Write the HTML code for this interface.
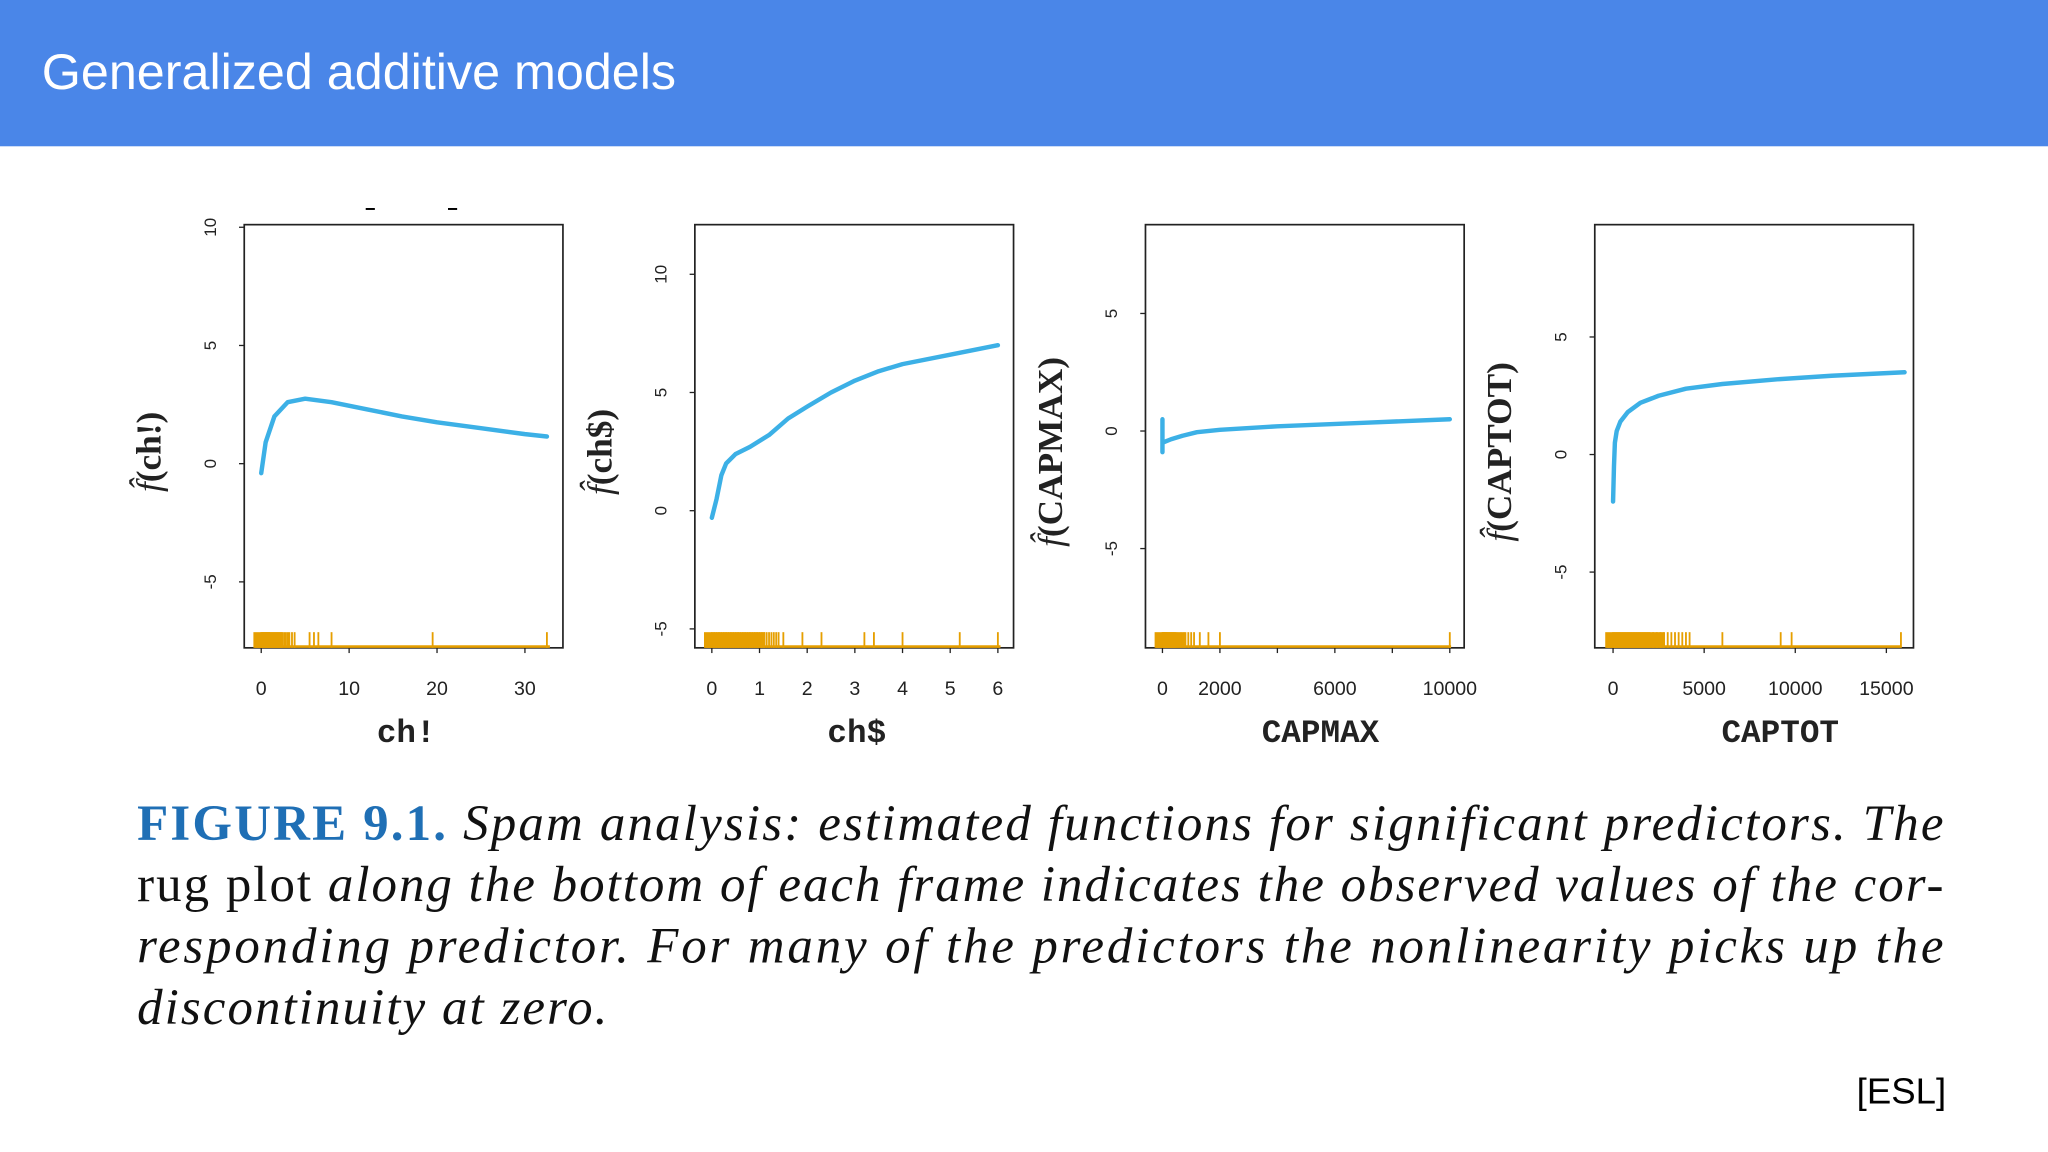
<!DOCTYPE html>
<html><head><meta charset="utf-8">
<style>
html,body{margin:0;padding:0;background:#fff;}
svg{display:block;}
</style></head>
<body>
<svg id="root" width="2048" height="1152" viewBox="0 0 1568 882" xmlns="http://www.w3.org/2000/svg">
  <rect x="0" y="0" width="1568" height="112" fill="#4a86e8"/>
  <text x="32" y="68" font-family="Liberation Sans, sans-serif" font-size="38.5" fill="#ffffff">Generalized additive models</text>
  <line x1="280" y1="160" x2="287" y2="160" stroke="#000" stroke-width="1.5"/>
  <line x1="343" y1="160" x2="350" y2="160" stroke="#000" stroke-width="1.5"/>
  <g id="charts"></g>
  <g font-family="Liberation Serif, serif" font-size="39" fill="#111">
    <text x="105" y="643" textLength="1383" lengthAdjust="spacing"><tspan fill="#1f6fb5" font-weight="bold">FIGURE 9.1.</tspan><tspan font-style="italic"> Spam analysis: estimated functions for significant predictors. The</tspan></text>
    <text x="105" y="690" textLength="1383" lengthAdjust="spacing">rug plot <tspan font-style="italic">along the bottom of each frame indicates the observed values of the cor-</tspan></text>
    <text x="105" y="737" textLength="1383" lengthAdjust="spacing" font-style="italic">responding predictor. For many of the predictors the nonlinearity picks up the</text>
    <text x="105" y="784" font-style="italic" textLength="360" lengthAdjust="spacing">discontinuity at zero.</text>
  </g>
  <text x="1490" y="845" text-anchor="end" font-family="Liberation Sans, sans-serif" font-size="28" fill="#000">[ESL]</text>
</svg>
<script>
// Panel 1: ch!
const p1CurveX = [0,0.5,1.5,3,5,8,12,16,20,25,30,32.5];
const p1CurveY = [-0.4,0.9,2.0,2.6,2.75,2.6,2.3,2.0,1.75,1.5,1.25,1.15];
const p1Rug = [0,0.1,0.2,0.3,0.4,0.5,0.6,0.7,0.8,0.9,1,1.2,1.4,1.6,1.8,2,2.2,2.4,2.6,2.8,3,3.2,3.5,3.8,5.5,6,6.5,8,19.5,32.5];
const p1XTicks = [0,10,20,30];
const p1YTicks = [-5,0,5,10];
// Panel 2: ch$
const p2CurveX = [0,0.1,0.2,0.3,0.5,0.8,1.2,1.6,2,2.5,3,3.5,4,5,6];
const p2CurveY = [-0.3,0.5,1.5,2.0,2.4,2.7,3.2,3.9,4.4,5.0,5.5,5.9,6.2,6.6,7.0];
const p2Rug = [0,0.05,0.1,0.15,0.2,0.25,0.3,0.35,0.4,0.45,0.5,0.55,0.6,0.65,0.7,0.75,0.8,0.85,0.9,0.95,1.0,1.05,1.1,1.15,1.2,1.25,1.3,1.35,1.4,1.5,1.9,2.3,3.2,3.4,4,5.2,6];
const p2XTicks = [0,1,2,3,4,5,6];
const p2YTicks = [-5,0,5,10];
// Panel 3: CAPMAX
const p3CurveX = [0,0,0,100,300,700,1200,2000,4000,7000,10000];
const p3CurveY = [0.5,-0.9,-0.5,-0.45,-0.35,-0.2,-0.05,0.05,0.2,0.35,0.5];
const p3Rug = [0,20,40,60,80,100,130,160,200,240,280,320,360,400,450,500,550,600,650,700,750,800,900,1000,1100,1300,1600,2000,10000];
const p3XTicks = [0,2000,6000,10000];
const p3XMinor = [4000,8000];
const p3YTicks = [-5,0,5];
// Panel 4: CAPTOT
const p4CurveX = [0,50,100,200,400,800,1500,2500,4000,6000,9000,12000,16000];
const p4CurveY = [-2.0,-0.5,0.5,1.0,1.4,1.8,2.2,2.5,2.8,3.0,3.2,3.35,3.5];
const p4Rug = [0,100,200,300,400,500,600,700,800,900,1000,1100,1200,1300,1400,1500,1600,1700,1800,1900,2000,2200,2400,2600,2800,3000,3200,3400,3600,3800,4000,4200,6000,9200,9800,15800];
const p4XTicks = [0,5000,10000,15000];
const p4YTicks = [-5,0,5];

const NS = "http://www.w3.org/2000/svg";
const root = document.getElementById('charts');
function mk(tag, attrs, parent){
  const e = document.createElementNS(NS, tag);
  for (const k in attrs) e.setAttribute(k, attrs[k]);
  parent.appendChild(e); return e;
}
const panels = [
  {name:'ch-excl', left:187, xlab:'ch!', ylab:'(ch!)', x0:200, xPer:6.73, y0:355, yPer:18.1, cx:p1CurveX, cy:p1CurveY, rug:p1Rug, xt:p1XTicks, xm:[], yt:p1YTicks},
  {name:'ch-dollar', left:532, xlab:'ch$', ylab:'(ch$)', x0:545, xPer:36.5, y0:391, yPer:18.1, cx:p2CurveX, cy:p2CurveY, rug:p2Rug, xt:p2XTicks, xm:[], yt:p2YTicks},
  {name:'capmax', left:877, xlab:'CAPMAX', ylab:'(CAPMAX)', x0:890, xPer:0.022, y0:330, yPer:18, cx:p3CurveX, cy:p3CurveY, rug:p3Rug, xt:p3XTicks, xm:p3XMinor, yt:p3YTicks},
  {name:'captot', left:1221, xlab:'CAPTOT', ylab:'(CAPTOT)', x0:1235, xPer:0.01395, y0:348, yPer:18, cx:p4CurveX, cy:p4CurveY, rug:p4Rug, xt:p4XTicks, xm:[], yt:p4YTicks}
];
const TOP=172, BOT=496, W=244;
panels.forEach(p=>{
  const xs = u => p.x0 + u*p.xPer;
  const ys = v => p.y0 - v*p.yPer;
  const g = mk('g', {}, root);
  
  
  const box = mk('rect', {x:p.left, y:TOP, width:W, height:BOT-TOP, fill:'none', stroke:'#222', 'stroke-width':1.3}, g);
  
  
  p.yt.forEach(v=>{
    const y = ys(v);
    const t = mk('line', {x1:p.left-4, x2:p.left, y1:y, y2:y, stroke:'#222', 'stroke-width':1}, g);
    
    
    const lb = mk('text', {x:0, y:0, transform:`translate(${p.left-26},${y}) rotate(-90)`, 'text-anchor':'middle', 'dominant-baseline':'central', 'font-family':'Liberation Sans, sans-serif', 'font-size':13, fill:'#222'}, g);
    lb.textContent = v;
    
    
  });
  p.xt.concat(p.xm).forEach(u=>{
    const x = xs(u);
    const t = mk('line', {x1:x, x2:x, y1:BOT, y2:BOT+4, stroke:'#222', 'stroke-width':1}, g);
    
    
  });
  p.xt.forEach(u=>{
    const lb = mk('text', {x:xs(u), y:532, 'text-anchor':'middle', 'font-family':'Liberation Sans, sans-serif', 'font-size':15, fill:'#222'}, g);
    lb.textContent = u;
    
    
  });
  const xt = mk('text', {x:p.left+W/2+(p.name==='captot'?20:(p.name==='capmax'?12:2)), y:568, 'text-anchor':'middle', 'font-family':'Liberation Mono, monospace', 'font-weight':'bold', 'font-size':25, fill:'#222'}, g);
  xt.textContent = p.xlab;
  
  
  const yt = mk('text', {x:0, y:0, transform:`translate(${p.left-64},${(TOP+BOT)/2+12}) rotate(-90)`, 'text-anchor':'middle', 'font-family':'Liberation Serif, serif', 'font-size':27, fill:'#222'}, g);
  const f = mk('tspan', {'font-style':'italic'}, yt); f.textContent = 'f\u0302';
  const r = mk('tspan', {'font-weight':'bold'}, yt); r.textContent = p.ylab;
  
  
  const base = mk('line', {x1:xs(0)-5, x2:p.left+W-10, y1:BOT-1, y2:BOT-1, stroke:'#e69f00', 'stroke-width':2}, g);
  
  
  p.rug.forEach(u=>{
    const x = xs(u);
    const l = mk('line', {x1:x, x2:x, y1:BOT-12, y2:BOT, stroke:'#e69f00', 'stroke-width':1.4}, g);
    
    
  });
  const fill = mk('rect', {x:xs(0)-6, y:BOT-12, width:Math.max(4,(xs(p.rug[Math.floor(p.rug.length*0.75)])-xs(0))*0.95), height:12, fill:'#e69f00'}, g);
  
  
  const d = p.cx.map((u,i)=>(i?'L':'M')+xs(u).toFixed(2)+','+ys(p.cy[i]).toFixed(2)).join(' ');
  const c = mk('path', {d:d, fill:'none', stroke:'#3cb0e6', 'stroke-width':3.4, 'stroke-linejoin':'round', 'stroke-linecap':'round'}, g);
  
  
});
</script>
</body></html>
